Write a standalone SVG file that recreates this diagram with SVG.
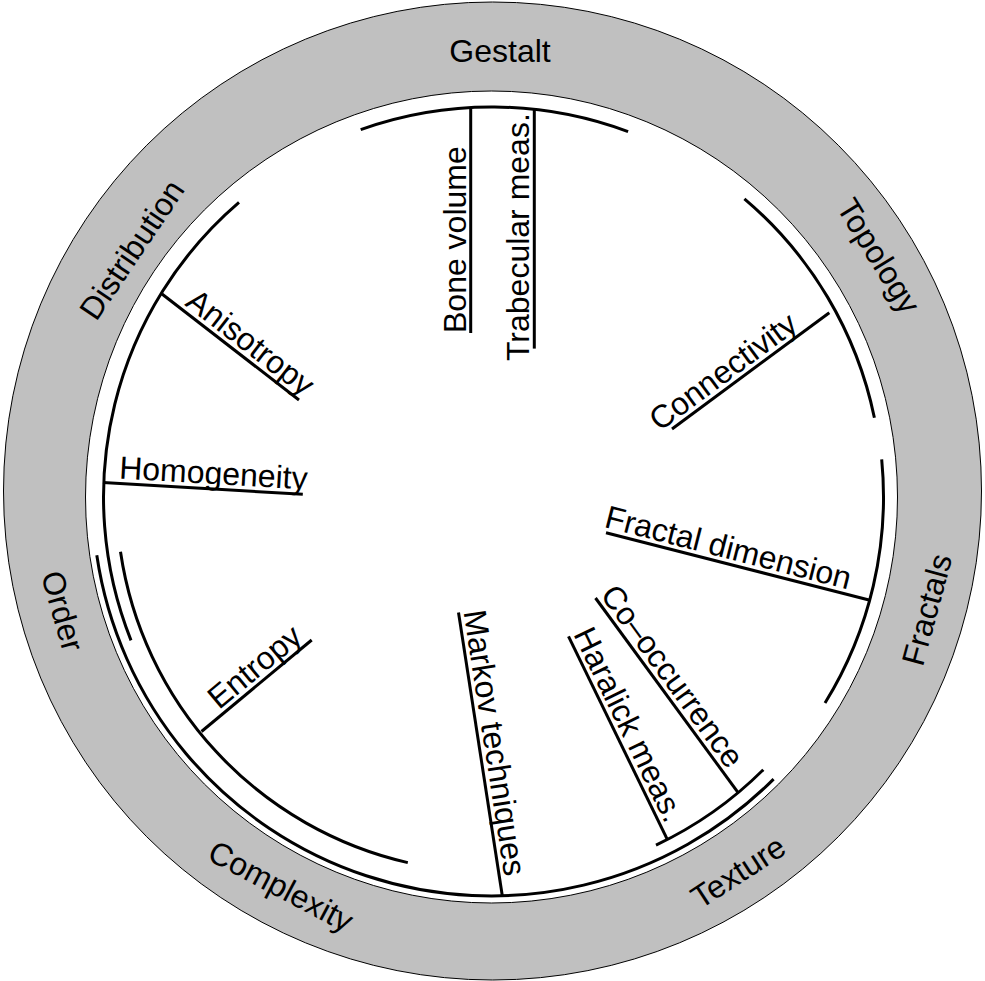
<svg xmlns="http://www.w3.org/2000/svg" width="985" height="981" viewBox="0 0 985 981">
<style>
.t{font-family:"Liberation Sans",Arial,Helvetica,sans-serif;font-size:32px;fill:#000}
.ln{fill:none;stroke:#000;stroke-width:3;stroke-linecap:butt}
.ring{fill:#c0c0c0;stroke:#000;stroke-width:1}
.disc{fill:#fff;stroke:#000;stroke-width:1}
</style>
<rect width="985" height="981" fill="#fff"/>
<g id="ring">
<circle class="ring" cx="492.5" cy="491" r="489"/>
<circle class="disc" cx="491.5" cy="497" r="406"/>
</g>
<g id="connectors">
<path class="ln" d="M360.7,129.6 A390,390 0 0 1 628.1,131.7"/>
<path class="ln" d="M744.4,198.8 A391,391 0 0 1 874.4,417.7"/>
<path class="ln" d="M881.7,459.4 A392,392 0 0 1 825,703"/>
<path class="ln" d="M763.3,769.7 A385,385 0 0 1 656,845.1"/>
<path class="ln" d="M773.6,779.1 A399,399 0 0 1 96.8,555.3"/>
<path class="ln" d="M239,202.4 A388,388 0 0 0 131,640.4"/>
<path class="ln" d="M120.5,551.8 A375,375 0 0 0 407.8,862.6"/>
</g>
<g id="gestalt"><text class="t" x="500" y="61.5" text-anchor="middle">Gestalt</text></g>
<g id="topology"><text class="t" text-anchor="middle" transform="translate(877,257) rotate(58.3)" y="9">Topology</text></g>
<g id="fractals"><text class="t" text-anchor="middle" transform="translate(926.5,609.5) rotate(-74.9)" y="11.5">Fractals</text></g>
<g id="texture"><text class="t" text-anchor="middle" transform="translate(738,871.5) rotate(-33.1)" y="11.5">Texture</text></g>
<g id="complexity"><text class="t" text-anchor="middle" transform="translate(279.5,889) rotate(27.9)" y="8">Complexity</text></g>
<g id="order"><text class="t" text-anchor="middle" transform="translate(63,611) rotate(74)" y="11.5">Order</text></g>
<g id="distribution"><text class="t" text-anchor="middle" transform="translate(131.5,249.5) rotate(-56)" y="11.5">Distribution</text></g>
<g id="bone-volume">
<path class="ln" d="M470.7,107.5 V333"/>
<text class="t" transform="translate(470.7,333) rotate(-90)" y="-5">Bone volume</text>
</g>
<g id="trabecular">
<path class="ln" d="M534.3,109.5 V348.6"/>
<text class="t" transform="translate(534.3,361) rotate(-90)" y="-5">Trabecular meas.</text>
</g>
<g id="connectivity">
<path class="ln" d="M672,429 L829.3,312.7"/>
<text class="t" transform="translate(662.4,436.1) rotate(-36.5)" y="-5">Connectivity</text>
</g>
<g id="fractal-dimension">
<path class="ln" d="M606,532.7 L870,600.3"/>
<text class="t" transform="translate(602.1,531.7) rotate(14.36)" y="-5">Fractal dimension</text>
</g>
<g id="co-occurrence">
<path class="ln" d="M595.5,598 L738.1,792.6"/>
<text class="t" transform="translate(595.5,598) rotate(53.77)" y="-5">Co–occurrence</text>
</g>
<g id="haralick">
<path class="ln" d="M568.5,636.3 L667.4,839.7"/>
<text class="t" transform="translate(568.5,636.3) rotate(64.07)" y="-5">Haralick meas.</text>
</g>
<g id="markov">
<path class="ln" d="M458.5,612.4 L502.3,895.8"/>
<text class="t" transform="translate(458.5,612.4) rotate(81.2)" y="-5">Markov techniques</text>
</g>
<g id="entropy">
<path class="ln" d="M201.5,731.5 L311.7,640"/>
<text class="t" transform="translate(222.3,714.2) rotate(-39.7)" y="-5">Entropy</text>
</g>
<g id="homogeneity">
<path class="ln" d="M103,482.4 L302.8,494.3"/>
<text class="t" transform="translate(118.4,483.4) rotate(3.39)" y="-5">Homogeneity</text>
</g>
<g id="anisotropy">
<path class="ln" d="M162,294 L299,400"/>
<text class="t" transform="translate(181,308.7) rotate(37.7)" y="-5">Anisotropy</text>
</g>
</svg>
